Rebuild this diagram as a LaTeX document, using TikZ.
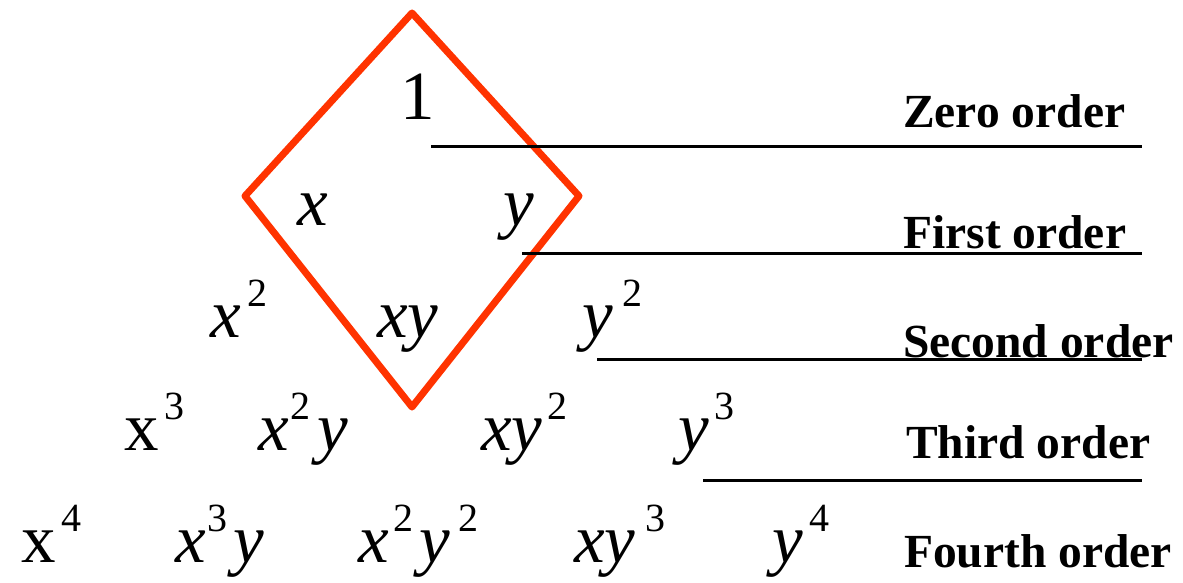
\documentclass[tikz,border=0pt]{standalone}
\usepackage{fontspec}
\setmainfont{Liberation Serif}
\definecolor{dred}{RGB}{255,51,0}
\newcommand\bigf{\fontsize{69}{72}\selectfont}
\newcommand\supf{\fontsize{40}{42}\selectfont}
\newcommand\pp[2]{\rlap{\hspace*{#1pt}#2}}
\newcommand\ex[1]{\raisebox{31pt}{\supf\upshape #1}}
\tikzset{
  mono/.style={anchor=base west, inner sep=0pt, font=\bigf\itshape},
  ord/.style={anchor=base west, inner sep=0pt, font=\fontsize{47.5}{50}\selectfont\bfseries},
  rulel/.style={line width=3pt},
  diam/.style={draw=dred, line width=7pt, line join=round}
}
\begin{document}
\begin{tikzpicture}[x=1pt,y=-1pt]
\useasboundingbox (0,0) rectangle (1183,583);
% diamond
\coordinate (dt) at (412,13);
\coordinate (dr) at (579,196);
\coordinate (db) at (412,407);
\coordinate (dl) at (245,196);
\draw[diam] (dt) -- (dr) -- (db) -- (dl) -- cycle;
% rules
\coordinate (a0) at (431,147);  \coordinate (b0) at (1142,147);
\coordinate (a1) at (522,253);  \coordinate (b1) at (1142,253);
\coordinate (a2) at (597,359);  \coordinate (b2) at (1142,359);
\coordinate (a3) at (703,480);  \coordinate (b3) at (1142,480);
\draw[rulel] (a0) -- (b0);
\draw[rulel] (a1) -- (b1);
\draw[rulel] (a2) -- (b2);
\draw[rulel] (a3) -- (b3);
% monomials
\node[mono] (m00) at (400,120) {\upshape 1};
\node[mono] (m10) at (297,225) {x};
\node[mono] (m11) at (503,225) {y};
\node[mono] (m20) at (210,337) {\pp{0}{x}\pp{37}{\ex{2}}\hspace*{57pt}};
\node[mono] (m21) at (377,337) {xy};
\node[mono] (m22) at (582,337) {\pp{0}{y}\pp{40}{\ex{2}}\hspace*{60pt}};
\node[mono] (m30) at (124,450) {\pp{0}{\upshape x}\pp{40}{\ex{3}}\hspace*{59pt}};
\node[mono] (m31) at (258,450) {\pp{0}{x}\pp{32}{\ex{2}}\pp{59}{y}\hspace*{89pt}};
\node[mono] (m32) at (481,450) {\pp{0}{xy}\pp{66}{\ex{2}}\hspace*{85pt}};
\node[mono] (m33) at (678,450) {\pp{0}{y}\pp{36}{\ex{3}}\hspace*{56pt}};
\node[mono] (m40) at (21,562) {\pp{0}{\upshape x}\pp{40}{\ex{4}}\hspace*{59pt}};
\node[mono] (m41) at (175,562) {\pp{0}{x}\pp{32}{\ex{3}}\pp{58}{y}\hspace*{88pt}};
\node[mono] (m42) at (358,562) {\pp{0}{x}\pp{35}{\ex{2}}\pp{61}{y}\pp{100}{\ex{2}}\hspace*{120pt}};
\node[mono] (m43) at (574,562) {\pp{0}{xy}\pp{71}{\ex{3}}\hspace*{91pt}};
\node[mono] (m44) at (772,562) {\pp{0}{y}\pp{37}{\ex{4}}\hspace*{57pt}};
% order labels
\node[ord] (o0) at (903,128) {Zero order};
\node[ord] (o1) at (903,248) {First order};
\node[ord] (o2) at (903,357) {Second order};
\node[ord] (o3) at (906,458) {Third order};
\node[ord] (o4) at (904,567) {Fourth order};
\end{tikzpicture}
\end{document}
